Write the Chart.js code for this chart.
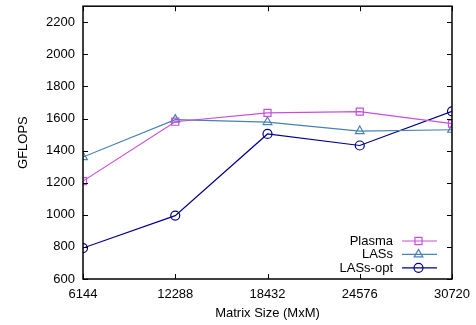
<!DOCTYPE html>
<html>
<head>
    <title>GFLOPS vs Matrix Size</title>
    <script src="https://cdn.jsdelivr.net/npm/chart.js"></script>
    <style>
        html, body { margin: 0; padding: 0; background: #fff; }
    </style>
</head>
<body>
    <canvas id="myChart" width="476" height="325"></canvas>

    <script>
        // matrix sizes (x values)
        const matrixSizes = [6144, 12288, 18432, 24576, 30720];
        const yTicks = [600, 800, 1000, 1200, 1400, 1600, 1800, 2000, 2200];

        // GFLOPS
        const plasma = [1210, 1580, 1635, 1643, 1568];
        const lass = [1360, 1593, 1578, 1522, 1530];
        const lassOpt = [793, 995, 1504, 1432, 1645];

        const FONT = 'Liberation Sans, Arial, Helvetica, sans-serif';

        function toPoints(arr) {
            return arr.map((v, i) => ({ x: matrixSizes[i], y: v }));
        }

        // gnuplot style frame: box with inward ticks on all four sides
        const framePlugin = {
            id: 'frame',
            afterDraw(chart) {
                const ctx = chart.ctx;
                const a = chart.chartArea;
                const xs = chart.scales.x, ys = chart.scales.y;
                ctx.save();
                ctx.strokeStyle = '#000';
                ctx.lineWidth = 1;
                ctx.beginPath();
                matrixSizes.forEach(v => {
                    const px = Math.round(xs.getPixelForValue(v)) + 0.5;
                    ctx.moveTo(px, a.bottom); ctx.lineTo(px, a.bottom - 5);
                    ctx.moveTo(px, a.top); ctx.lineTo(px, a.top + 5);
                });
                yTicks.forEach(v => {
                    const py = Math.round(ys.getPixelForValue(v)) + 0.5;
                    ctx.moveTo(a.left, py); ctx.lineTo(a.left + 5, py);
                    ctx.moveTo(a.right, py); ctx.lineTo(a.right - 5, py);
                });
                ctx.stroke();
                ctx.lineWidth = 1.5;
                ctx.strokeRect(a.left, a.top, a.right - a.left, a.bottom - a.top);

                // key, bottom right inside the plot
                ctx.font = '13px ' + FONT;
                ctx.textAlign = 'right';
                ctx.textBaseline = 'middle';
                chart.data.datasets.forEach((ds, i) => {
                    const y = 241 + i * 13.4;
                    ctx.fillStyle = '#000';
                    ctx.fillText(ds.label, 393, y + 0.5);
                    ctx.strokeStyle = ds.borderColor;
                    ctx.fillStyle = 'rgba(0,0,0,0)';
                    ctx.lineWidth = 1.2;
                    ctx.beginPath();
                    ctx.moveTo(402, y); ctx.lineTo(437, y);
                    ctx.stroke();
                    Chart.helpers.drawPoint(ctx, {
                        pointStyle: ds.pointStyle,
                        radius: ds.pointRadius,
                        borderWidth: 1.2,
                        rotation: 0
                    }, 418.5, y);
                });
                ctx.restore();
            }
        };

        const ctx = document.getElementById('myChart').getContext('2d');
        const myChart = new Chart(ctx, {
            type: 'line',
            data: {
                datasets: [{
                    label: 'Plasma',
                    data: toPoints(plasma),
                    borderColor: '#c84fdc',
                    pointStyle: 'rect',
                    pointRadius: 5
                }, {
                    label: 'LASs',
                    data: toPoints(lass),
                    borderColor: '#4682b4',
                    pointStyle: 'triangle',
                    pointRadius: 5
                }, {
                    label: 'LASs-opt',
                    data: toPoints(lassOpt),
                    borderColor: '#00008b',
                    pointStyle: 'circle',
                    pointRadius: 4.5
                }]
            },
            options: {
                responsive: false,
                animation: false,
                devicePixelRatio: 1,
                layout: { padding: { left: 0, top: 5, right: 24, bottom: 0 } },
                elements: {
                    line: { borderWidth: 1.2, tension: 0, fill: false },
                    point: { borderWidth: 1.2, backgroundColor: 'rgba(0,0,0,0)' }
                },
                plugins: {
                    legend: { display: false },
                    tooltip: { enabled: false }
                },
                scales: {
                    x: {
                        type: 'linear',
                        min: 6144,
                        max: 30720,
                        grid: { display: false, drawTicks: false },
                        border: { display: false },
                        afterBuildTicks: s => { s.ticks = matrixSizes.map(v => ({ value: v })); },
                        afterFit: s => { s.height = 46; s.paddingLeft = 0; s.paddingRight = 0; },
                        ticks: {
                            color: '#000',
                            padding: 8,
                            maxRotation: 0,
                            autoSkip: false,
                            font: { family: FONT, size: 13 },
                            callback: v => String(v)
                        },
                        title: {
                            display: true,
                            text: 'Matrix Size (MxM)',
                            color: '#000',
                            padding: { top: 4, bottom: 4 },
                            font: { family: FONT, size: 13 }
                        }
                    },
                    y: {
                        min: 600,
                        max: 2300,
                        grid: { display: false, drawTicks: false },
                        border: { display: false },
                        afterBuildTicks: s => { s.ticks = yTicks.map(v => ({ value: v })); },
                        afterFit: s => { s.width = 83; s.paddingTop = 0; s.paddingBottom = 0; },
                        ticks: {
                            color: '#000',
                            padding: 8,
                            font: { family: FONT, size: 13 },
                            callback: v => String(v)
                        },
                        title: {
                            display: true,
                            text: 'GFLOPS',
                            color: '#000',
                            padding: { top: 16, bottom: 16 },
                            font: { family: FONT, size: 13 }
                        }
                    }
                }
            },
            plugins: [framePlugin]
        });
    </script>
</body>
</html>
